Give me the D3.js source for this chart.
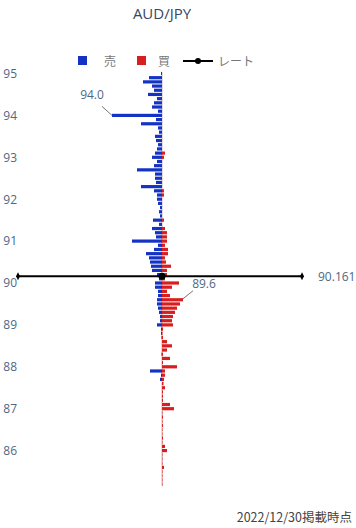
<!DOCTYPE html>
<html><head><meta charset="utf-8">
<script src="https://cdn.jsdelivr.net/npm/d3@7"></script>
<style>body{margin:0;background:#fff;}svg{display:block;font-family:"Open Sans","Noto Sans",sans-serif;}</style>
</head><body><svg id="c" width="356" height="528"></svg>
<script>
const prices = [95.0,94.9,94.8,94.7,94.6,94.5,94.4,94.3,94.2,94.1,94.0,93.9,93.8,93.7,93.6,93.5,93.4,93.3,93.2,93.1,93.0,92.9,92.8,92.7,92.6,92.5,92.4,92.3,92.2,92.1,92.0,91.9,91.8,91.7,91.6,91.5,91.4,91.3,91.2,91.1,91.0,90.9,90.8,90.7,90.6,90.5,90.4,90.3,90.2,90.1,90.0,89.9,89.8,89.7,89.6,89.5,89.4,89.3,89.2,89.1,89.0,88.9,88.8,88.7,88.6,88.5,88.4,88.3,88.2,88.1,88.0,87.9,87.8,87.7,87.6,87.5,87.4,87.3,87.2,87.1,87.0,86.9,86.8,86.7,86.6,86.5,86.4,86.3,86.2,86.1,86.0,85.9,85.8,85.7,85.6,85.5,85.4,85.3,85.2];
const sell = [1,13,19,10,8,14,5,8,10,4,50,6,21,4,3,7,6,4,5,7,10,5,8,25,7,7,6,21,8,5,5,4,2,3,2,9,3,10,7,6,30,4,8,16,13,12,11,10,5,3,7,7,4,4,5,5,4,3,2,2,5,1,1,0.5,0,0,0,0.5,0,0,0,12,1,2,0,0,0,0,0,0,0,0,0,0,0,0,0,0,0,0,0,0,0,0,0,0,0,0,0];
const buy = [0,0,0,0,0,0,0,0,0,0,0,0,0,0,0,0,0,0,0,3,2,0,0,0,0,0,0,0,2,2,0,0,0,0,0,2,0,3,5,5,5,3,6,6,3,4,9,5,5,3,17,10,5,8,21,18,15,13,11,10,11,1,0.5,1,5,10,5,1,8,1,15,3,3,2,1.5,3,1,1,1,8,12,0.5,1,0.5,1,0.5,0.5,1,0.5,3,5,0.5,0.5,0.5,2,0.5,0.5,0.5,0.5];
const yTicks = [86,87,88,89,90,91,92,93,94,95];
const rate = 90.161;
const title = "AUD/JPY";
const legendLabels = ["売","買","レート"];
const annotations = [{price:94.0, side:"sell", text:"94.0"},{price:89.6, side:"buy", text:"89.6"}];
const footer = "2022/12/30掲載時点";

const svg = d3.select("#c");
const blue = "#1432c4", red = "#d81e1e";
const y = d3.scaleLinear().domain([86,95]).range([450.6,73.5]);
const x = d3.scaleLinear().domain([-144,140]).range([18,302]);

svg.append("text").attr("x",162).attr("y",19).attr("text-anchor","middle")
  .attr("font-size",15).attr("fill","#3a4660").text(title);

// y axis labels
const ax = svg.append("g").attr("transform","translate(17,0)")
  .call(d3.axisLeft(y).tickValues(yTicks).tickSize(0).tickFormat(d3.format("d")));
ax.select(".domain").remove();
ax.selectAll("text").attr("font-size",12).attr("fill","#506784").attr("font-family","'Open Sans',sans-serif").attr("x",0);

// center thin line
svg.append("line").attr("x1",x(0)).attr("x2",x(0)).attr("y1",y(95.0)-1).attr("y2",y(85.2)+2)
  .attr("stroke","#c9b8b8").attr("stroke-width",1);

const bh = 3.2;
svg.append("g").selectAll("rect").data(prices.map((p,i)=>({p,v:sell[i]})).filter(d=>d.v>0)).join("rect")
  .attr("x",d=>x(-d.v)).attr("width",d=>x(0)-x(-d.v)).attr("y",d=>y(d.p)-bh/2).attr("height",bh).attr("fill",blue);
svg.append("g").selectAll("rect").data(prices.map((p,i)=>({p,v:buy[i]})).filter(d=>d.v>0)).join("rect")
  .attr("x",x(0)).attr("width",d=>x(d.v)-x(0)).attr("y",d=>y(d.p)-bh/2).attr("height",bh).attr("fill",red);

// rate line
const ry = y(rate);
svg.append("line").attr("x1",x(-144)).attr("x2",x(140)).attr("y1",ry).attr("y2",ry).attr("stroke","#000").attr("stroke-width",2);
[x(-144),x(140)].forEach(xx=>svg.append("path").attr("d",`M${xx-2},${ry} L${xx},${ry-4} L${xx+2},${ry} L${xx},${ry+4}Z`).attr("fill","#000"));
svg.append("circle").attr("cx",x(0)).attr("cy",ry).attr("r",3.5).attr("fill","#000");
svg.append("text").attr("x",318).attr("y",ry+4.5).attr("font-size",12).attr("fill","#506784").text(d3.format(".3f")(rate));

// annotations
annotations.forEach(a=>{
  const i = prices.indexOf(a.price);
  if(a.side==="sell"){
    const bx = x(-sell[i]), by = y(a.price);
    svg.append("line").attr("x1",bx).attr("y1",by).attr("x2",bx-10).attr("y2",by-9).attr("stroke","#777").attr("stroke-width",1);
    svg.append("text").attr("x",bx-20).attr("y",by-16).attr("text-anchor","middle").attr("font-size",12).attr("fill","#506784").text(a.text);
  } else {
    const bx = x(buy[i]), by = y(a.price);
    svg.append("line").attr("x1",bx).attr("y1",by-1).attr("x2",bx+10).attr("y2",by-9).attr("stroke","#777").attr("stroke-width",1);
    svg.append("text").attr("x",bx+21).attr("y",by-12).attr("text-anchor","middle").attr("font-size",12).attr("fill","#506784").text(a.text);
  }
});

// legend
const lg = svg.append("g");
lg.append("rect").attr("x",78).attr("y",56).attr("width",9).attr("height",9).attr("fill",blue);
lg.append("text").attr("x",104).attr("y",65.5).attr("font-size",12).attr("fill","#777").attr("font-family","'Noto Sans CJK JP',sans-serif").text(legendLabels[0]);
lg.append("rect").attr("x",137).attr("y",56).attr("width",9).attr("height",9).attr("fill",red);
lg.append("text").attr("x",158).attr("y",65.5).attr("font-size",12).attr("fill","#777").attr("font-family","'Noto Sans CJK JP',sans-serif").text(legendLabels[1]);
lg.append("line").attr("x1",183).attr("x2",213).attr("y1",61).attr("y2",61).attr("stroke","#000").attr("stroke-width",2);
lg.append("circle").attr("cx",198).attr("cy",61).attr("r",3).attr("fill","#000");
lg.append("text").attr("x",218).attr("y",65.5).attr("font-size",12).attr("fill","#777").attr("font-family","'Noto Sans CJK JP',sans-serif").text(legendLabels[2]);

svg.append("text").attr("x",352).attr("y",522).attr("text-anchor","end").attr("font-size",12.5).attr("fill","#444")
  .attr("font-family","'Noto Sans CJK JP',sans-serif").text(footer);
</script></body></html>
